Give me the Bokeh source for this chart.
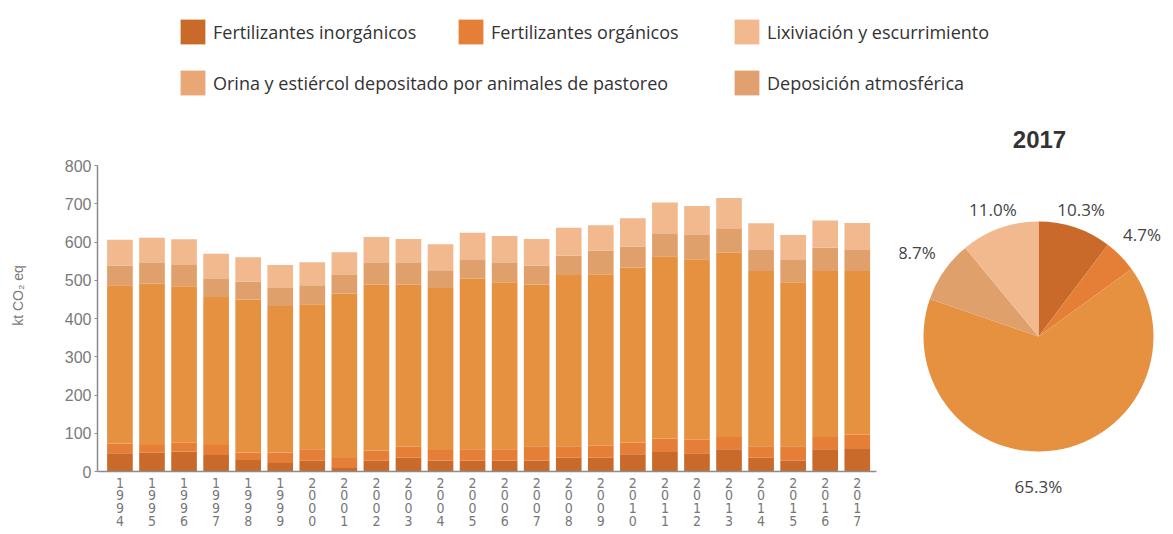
import math
from bokeh.plotting import figure
from bokeh.layouts import column, row
from bokeh.models import (ColumnDataSource, Legend, LegendItem, FixedTicker,
                          Range1d, Title)
from bokeh.core.properties import value
from bokeh.embed import file_html
from bokeh.resources import INLINE

# ---------------- data ----------------
years = [str(y) for y in range(1994, 2018)]
inorganicos = [48, 49, 52, 43, 30, 22, 28, 9, 28, 36, 29, 29, 29, 29, 36, 36, 45, 51, 48, 58, 36, 28, 58, 59]
organicos = [25, 20, 23, 26, 20, 28, 30, 26, 27, 29, 27, 29, 29, 37, 30, 31, 31, 35, 35, 32, 30, 38, 32, 38]
orina = [414, 422, 409, 387, 400, 383, 379, 430, 433, 423, 424, 446, 437, 423, 448, 449, 457, 477, 472, 482, 458, 429, 434, 427]
deposicion = [51, 54, 56, 47, 46, 47, 50, 49, 57, 57, 46, 51, 50, 49, 51, 61, 55, 60, 63, 62, 55, 58, 61, 55]
lixiviacion = [68, 66, 67, 66, 64, 60, 60, 59, 68, 63, 68, 69, 71, 70, 72, 67, 74, 80, 76, 81, 70, 65, 71, 71]

series_names = ["Fertilizantes inorgánicos", "Fertilizantes orgánicos",
                "Orina y estiércol depositado por animales de pastoreo",
                "Deposición atmosférica", "Lixiviación y escurrimiento"]
bar_colors = ["#C96A2B", "#E57E37", "#E69140", "#E0A06C", "#F2B88E"]
legend_colors = ["#C96A2B", "#E57E37", "#E8A774", "#E1A070", "#F2B88E"]

pie_year = "2017"
pie_shares = [10.3, 4.7, 65.3, 8.7, 11.0]
pie_labels = ["10.3%", "4.7%", "65.3%", "8.7%", "11.0%"]

y_ticks = [0, 100, 200, 300, 400, 500, 600, 700, 800]
y_max = 800

FONT = "Open Sans"
NARROW = "'Liberation Sans Narrow', 'DejaVu Sans Condensed', 'Liberation Sans', sans-serif"

# ---------------- legend strip ----------------
leg = figure(width=1164, height=117, x_range=Range1d(0, 1), y_range=Range1d(0, 1),
             toolbar_location=None, output_backend="svg", min_border=0,
             x_axis_location=None, y_axis_location=None, outline_line_color=None)
leg.grid.visible = False

nan = float("nan")
dummies = [leg.rect(x=[nan], y=[nan], width=1, height=1, fill_color=c, line_color=None)
           for c in legend_colors]

leg_positions = [(177, 70), (455, 70), (731, 70), (177, 19), (731, 19)]
legend_order = [0, 1, 4, 2, 3]
for pos, idx in zip(leg_positions, legend_order):
    lg = Legend(items=[LegendItem(label=series_names[idx], renderers=[dummies[idx]])],
                location=pos, padding=0, margin=0, spacing=0,
                glyph_width=31, glyph_height=31, label_standoff=5,
                label_text_font=FONT, label_text_font_size="18px",
                label_text_color="#333333", border_line_color=None,
                background_fill_alpha=0)
    leg.add_layout(lg)

# ---------------- bar chart ----------------
FRAME_TOP_EXTRA = 46      # px of frame above the 800 gridline (room for pie title)
VALUE_PX = 306            # px from 0 to 800
BOTTOM = 60
TOP = 2
FIG_H = TOP + FRAME_TOP_EXTRA + VALUE_PX + BOTTOM
y_end = y_max * (VALUE_PX + FRAME_TOP_EXTRA) / VALUE_PX

xs = list(range(len(years)))
src = ColumnDataSource(dict(
    x=xs,
    inorganicos=inorganicos, organicos=organicos, orina=orina,
    deposicion=deposicion, lixiviacion=lixiviacion,
))
stack_cols = ["inorganicos", "organicos", "orina", "deposicion", "lixiviacion"]

p = figure(width=899, height=FIG_H, x_range=Range1d(-0.7, 23.6), y_range=Range1d(0, y_end),
           toolbar_location=None, output_backend="svg",
           min_border_left=97, min_border_right=23, min_border_top=TOP, min_border_bottom=BOTTOM,
           outline_line_color=None)
p.grid.visible = False
p.vbar_stack(stack_cols, x="x", width=0.8, fill_color=bar_colors, line_color=None, source=src)

p.yaxis.bounds = (0, y_max)
p.yaxis.ticker = FixedTicker(ticks=y_ticks)
p.yaxis.minor_tick_line_color = None
p.yaxis.major_tick_out = 3
p.yaxis.major_tick_in = 0
p.yaxis.major_tick_line_color = "#8c8c8c"
p.yaxis.axis_line_color = "#8c8c8c"
p.yaxis.axis_line_width = 1.5
p.yaxis.major_label_text_color = "#7a7a7a"
p.yaxis.major_label_text_font = "Liberation Sans"
p.yaxis.major_label_text_font_size = "16px"
p.yaxis.major_label_standoff = 3
p.yaxis.axis_label = "kt CO₂ eq"
p.yaxis.axis_label_text_font = "Liberation Sans"
p.yaxis.axis_label_text_font_style = "normal"
p.yaxis.axis_label_text_font_size = "14px"
p.yaxis.axis_label_text_color = "#7a7a7a"
p.yaxis.axis_label_standoff = 36

p.xaxis.ticker = FixedTicker(ticks=xs)
p.xaxis.major_label_overrides = {i: "\n".join(y) for i, y in zip(xs, years)}
p.xaxis.axis_line_color = "#8c8c8c"
p.xaxis.axis_line_width = 1.5
p.xaxis.major_tick_line_color = None
p.xaxis.minor_tick_line_color = None
p.xaxis.major_tick_out = 0
p.xaxis.major_tick_in = 0
p.xaxis.major_label_standoff = 3
p.xaxis.major_label_text_font = NARROW
p.xaxis.major_label_text_font_size = "14px"
p.xaxis.major_label_text_line_height = 0.8
p.xaxis.major_label_text_color = "#777777"

# ---------------- pie ----------------
PW = 265
FH = VALUE_PX + FRAME_TOP_EXTRA
CX, CY, R = 139, 135, 115
pie = figure(width=PW, height=FIG_H, x_range=Range1d(0, PW), y_range=Range1d(0, FH),
             toolbar_location=None, output_backend="svg",
             min_border_left=0, min_border_right=0, min_border_top=TOP, min_border_bottom=BOTTOM,
             x_axis_location=None, y_axis_location=None, outline_line_color=None)
pie.grid.visible = False

total = sum(pie_shares)
starts, ends, mids = [], [], []
acc = 0.0
for s in pie_shares:
    a0 = math.pi / 2 - 2 * math.pi * acc / total
    acc += s
    a1 = math.pi / 2 - 2 * math.pi * acc / total
    starts.append(a0)
    ends.append(a1)
    mids.append((a0 + a1) / 2)

lx, ly = [], []
for m in mids:
    d = R + 10 + abs(math.cos(m)) * 28
    lx.append(CX + d * math.cos(m))
    ly.append(CY + d * math.sin(m))

bottom_idx = min(range(len(mids)), key=lambda i: ly[i])
top_idx = [i for i in range(len(mids)) if i != bottom_idx]

pie_src = ColumnDataSource(dict(start=starts, end=ends, color=bar_colors))
pie.wedge(x=CX, y=CY, radius=R, start_angle="start", end_angle="end",
          direction="clock", fill_color="color", line_color=None, source=pie_src)

lab_src = ColumnDataSource(dict(
    x=[lx[i] for i in top_idx], y=[ly[i] for i in top_idx],
    text=[pie_labels[i] for i in top_idx]))
pie.text(x="x", y="y", text="text", source=lab_src, text_align="center",
         text_baseline="middle", text_font=value(FONT), text_font_size="17px",
         text_color="#444444")

pie.text(x=[CX + 1], y=[FH - 20], text=[pie_year], text_align="center",
         text_baseline="middle", text_font=value("Liberation Sans"),
         text_font_style="bold", text_font_size="24px", text_color="#333333")

pie.add_layout(Title(text=pie_labels[bottom_idx], align="left", offset=CX - 24, standoff=2,
                     text_font=FONT, text_font_style="normal", text_font_size="17px",
                     text_color="#444444"), "below")

layout = column(leg, row(p, pie))
open("out.html", "w").write(file_html(layout, INLINE))
